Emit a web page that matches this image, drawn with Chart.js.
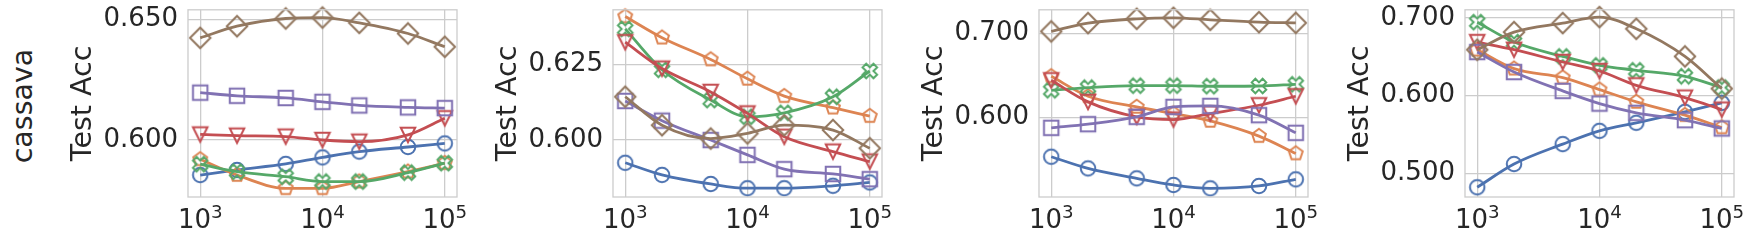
<!DOCTYPE html>
<html><head><meta charset="utf-8">
<script src="https://cdn.jsdelivr.net/npm/chart.js@4.4.1/dist/chart.umd.min.js"></script>
<style>
html,body{margin:0;padding:0;background:#fff;}
#wrap{position:relative;width:1751px;height:241px;overflow:hidden;background:#fff;}
#wrap canvas{position:absolute;top:0;}
#rowlabel{position:absolute;left:23px;top:106px;transform:translate(-50%,-50%) rotate(-90deg);font:28.5px 'DejaVu Sans';color:#262626;white-space:nowrap;line-height:1;}
</style></head><body>
<div id="wrap"><div id="rowlabel"></div></div>
<script>
// ---------------- data ----------------
const X_VALUES = [1000, 2000, 5000, 10000, 20000, 50000, 100000];
const X_TICKS = [1000, 10000, 100000];
const ROW_LABEL = 'cassava';
const Y_LABEL = 'Test Acc';

// panel 1
const P1_BLUE   = [0.5855, 0.5876, 0.5901, 0.5928, 0.5952, 0.5971, 0.5986];
const P1_ORANGE = [0.5920, 0.5855, 0.5800, 0.5800, 0.5828, 0.5869, 0.5904];
const P1_GREEN  = [0.5900, 0.5869, 0.5848, 0.5828, 0.5828, 0.5865, 0.5904];
const P1_RED    = [0.6023, 0.6018, 0.6014, 0.6000, 0.5993, 0.6021, 0.6090];
const P1_PURPLE = [0.6196, 0.6183, 0.6174, 0.6158, 0.6143, 0.6135, 0.6132];
const P1_BROWN  = [0.6423, 0.6471, 0.6503, 0.6507, 0.6485, 0.6441, 0.6386];
const P1_Y_TICKS = [0.600, 0.650];
const P1_Y_RANGE = [0.5764, 0.6539];

// panel 2
const P2_BLUE   = [0.5925, 0.5885, 0.5855, 0.5841, 0.5841, 0.5849, 0.5860];
const P2_ORANGE = [0.6408, 0.6338, 0.6266, 0.6202, 0.6145, 0.6107, 0.6079];
const P2_GREEN  = [0.6367, 0.6232, 0.6132, 0.6077, 0.6090, 0.6143, 0.6228];
const P2_RED    = [0.6323, 0.6236, 0.6159, 0.6088, 0.6011, 0.5962, 0.5929];
const P2_PURPLE = [0.6129, 0.6064, 0.6000, 0.5951, 0.5904, 0.5888, 0.5871];
const P2_BROWN  = [0.6143, 0.6049, 0.6005, 0.6022, 0.6049, 0.6033, 0.5973];
const P2_Y_TICKS = [0.600, 0.625];
const P2_Y_RANGE = [0.5812, 0.6430];

// panel 3
const P3_BLUE   = [0.5534, 0.5395, 0.5277, 0.5198, 0.5158, 0.5186, 0.5265];
const P3_ORANGE = [0.6490, 0.6253, 0.6126, 0.6047, 0.5960, 0.5779, 0.5573];
const P3_GREEN  = [0.6324, 0.6356, 0.6379, 0.6379, 0.6372, 0.6375, 0.6395];
const P3_RED    = [0.6443, 0.6186, 0.6008, 0.5976, 0.6047, 0.6146, 0.6253];
const P3_PURPLE = [0.5877, 0.5921, 0.6008, 0.6126, 0.6138, 0.6028, 0.5818];
const P3_BROWN  = [0.7024, 0.7123, 0.7174, 0.7186, 0.7162, 0.7134, 0.7126];
const P3_Y_TICKS = [0.600, 0.700];
const P3_Y_RANGE = [0.5055, 0.7281];

// panel 4
const P4_BLUE   = [0.4821, 0.5120, 0.5376, 0.5547, 0.5650, 0.5791, 0.5906];
const P4_ORANGE = [0.6590, 0.6346, 0.6231, 0.6077, 0.5919, 0.5748, 0.5590];
const P4_GREEN  = [0.6944, 0.6688, 0.6504, 0.6389, 0.6325, 0.6248, 0.6103];
const P4_RED    = [0.6688, 0.6590, 0.6432, 0.6316, 0.6132, 0.5974, 0.5820];
const P4_PURPLE = [0.6560, 0.6303, 0.6060, 0.5897, 0.5778, 0.5684, 0.5577];
const P4_BROWN  = [0.6590, 0.6816, 0.6932, 0.7009, 0.6859, 0.6504, 0.6090];
const P4_Y_TICKS = [0.500, 0.600, 0.700];
const P4_Y_RANGE = [0.4696, 0.7103];

// ---------------- style ----------------
const COLORS  = ['#4C72B0', '#DD8452', '#55A868', '#C44E52', '#8172B3', '#937860'];
const MARKERS = ['circle', 'pentagon', 'xfilled', 'tridown', 'square', 'diamond'];
const TEXT = '#262626';
const GRID = '#cccccc';
const FONT = 'DejaVu Sans';
const TICK_SIZE = 26, LABEL_SIZE = 28.5;
const MS = 14.5, MEW = 2, LW = 2.8;

const PANELS = [
  {series: [P1_BLUE, P1_ORANGE, P1_GREEN, P1_RED, P1_PURPLE, P1_BROWN], yTicks: P1_Y_TICKS, yRange: P1_Y_RANGE},
  {series: [P2_BLUE, P2_ORANGE, P2_GREEN, P2_RED, P2_PURPLE, P2_BROWN], yTicks: P2_Y_TICKS, yRange: P2_Y_RANGE},
  {series: [P3_BLUE, P3_ORANGE, P3_GREEN, P3_RED, P3_PURPLE, P3_BROWN], yTicks: P3_Y_TICKS, yRange: P3_Y_RANGE},
  {series: [P4_BLUE, P4_ORANGE, P4_GREEN, P4_RED, P4_PURPLE, P4_BROWN], yTicks: P4_Y_TICKS, yRange: P4_Y_RANGE},
];

const PLOT_LEFT = [188, 613, 1039, 1465];
const PLOT_W = 269, AXIS_W = 122, PAD_R = 24, PAD_TOP = 9, XAXIS_H = 44, H = 241;

document.getElementById('rowlabel').textContent = ROW_LABEL;

function markerCanvas(shape, color) {
  const S = 28;
  const c = document.createElement('canvas');
  c.width = S; c.height = S;
  const g = c.getContext('2d');
  g.translate(S / 2, S / 2);
  g.strokeStyle = color; g.lineWidth = MEW; g.lineJoin = 'miter';
  const h = MS / 2;
  g.beginPath();
  if (shape === 'circle') {
    g.arc(0, 0, h, 0, Math.PI * 2);
  } else if (shape === 'square') {
    g.rect(-h, -h, MS, MS);
  } else if (shape === 'diamond') {
    const d = h * Math.SQRT2;
    g.moveTo(0, -d); g.lineTo(d, 0); g.lineTo(0, d); g.lineTo(-d, 0); g.closePath();
  } else if (shape === 'tridown') {
    g.moveTo(-h, -h); g.lineTo(h, -h); g.lineTo(0, h); g.closePath();
  } else if (shape === 'pentagon') {
    for (let k = 0; k < 5; k++) {
      const a = -Math.PI / 2 + k * 2 * Math.PI / 5;
      const px = h * Math.cos(a), py = h * Math.sin(a);
      if (k === 0) g.moveTo(px, py); else g.lineTo(px, py);
    }
    g.closePath();
  } else if (shape === 'xfilled') {
    const pts = [[-1,-2],[0,-1],[1,-2],[2,-1],[1,0],[2,1],[1,2],[0,1],[-1,2],[-2,1],[-1,0],[-2,-1]];
    pts.forEach((p, k) => {
      const px = p[0] * h / 2, py = p[1] * h / 2;
      if (k === 0) g.moveTo(px, py); else g.lineTo(px, py);
    });
    g.closePath();
  }
  g.stroke();
  return c;
}

const frame = {
  id: 'frame',
  afterDatasetsDraw(chart) {
    const a = chart.chartArea, ctx = chart.ctx;
    ctx.save();
    ctx.strokeStyle = GRID; ctx.lineWidth = 1.3;
    ctx.strokeRect(a.left, a.top, a.right - a.left, a.bottom - a.top);
    ctx.restore();
  }
};

const xTickLabels = {
  id: 'xTickLabels',
  afterDraw(chart) {
    const s = chart.scales.x, ctx = chart.ctx;
    ctx.save();
    ctx.fillStyle = TEXT; ctx.textBaseline = 'alphabetic'; ctx.textAlign = 'left';
    const fb = TICK_SIZE + 'px "' + FONT + '"';
    const fe = (TICK_SIZE * 0.7) + 'px "' + FONT + '"';
    for (const t of s.ticks) {
      const px = s.getPixelForValue(t.value);
      const e = String(Math.round(Math.log10(t.value)));
      ctx.font = fb;
      const wb = ctx.measureText('10').width;
      ctx.font = fe;
      const we = ctx.measureText(e).width;
      const x0 = px - (wb + we) / 2;
      const yb = s.top + 30.5;
      ctx.font = fb;
      ctx.fillText('10', x0, yb);
      ctx.font = fe;
      ctx.fillText(e, x0 + wb, yb - 9.3);
    }
    ctx.restore();
  }
};

const wrap = document.getElementById('wrap');
PANELS.forEach((p, pi) => {
  const cv = document.createElement('canvas');
  const W = AXIS_W + PLOT_W + PAD_R;
  cv.width = W; cv.height = H;
  cv.style.left = (PLOT_LEFT[pi] - AXIS_W) + 'px';
  cv.style.width = W + 'px'; cv.style.height = H + 'px';
  wrap.appendChild(cv);

  const datasets = p.series.map((arr, si) => ({
    data: X_VALUES.map((x, i) => ({x: x, y: arr[i]})),
    borderColor: COLORS[si],
    borderWidth: LW,
    backgroundColor: 'transparent',
    pointStyle: markerCanvas(MARKERS[si], COLORS[si]),
    pointRadius: 7,
    pointHoverRadius: 7,
    cubicInterpolationMode: 'monotone',
    fill: false,
    clip: false,
    order: 6 - si
  }));

  new Chart(cv, {
    type: 'line',
    data: {datasets: datasets},
    plugins: [frame, xTickLabels],
    options: {
      responsive: false,
      animation: false,
      devicePixelRatio: 1,
      layout: {padding: {top: PAD_TOP, right: PAD_R, left: 0, bottom: 0}},
      plugins: {legend: {display: false}, tooltip: {enabled: false}},
      events: [],
      scales: {
        x: {
          type: 'logarithmic',
          min: Math.pow(10, 2.9), max: Math.pow(10, 5.1),
          afterBuildTicks: s => { s.ticks = X_TICKS.map(v => ({value: v})); },
          ticks: {display: false},
          grid: {color: GRID, lineWidth: 1.3, drawTicks: false},
          border: {display: false},
          afterFit: s => { s.height = XAXIS_H; s.paddingLeft = 0; s.paddingRight = 0; }
        },
        y: {
          type: 'linear',
          min: p.yRange[0], max: p.yRange[1],
          afterBuildTicks: s => { s.ticks = p.yTicks.map(v => ({value: v})); },
          ticks: {
            callback: v => Number(v).toFixed(3),
            font: {family: FONT, size: TICK_SIZE},
            color: TEXT,
            padding: 10,
            autoSkip: false
          },
          title: {display: true, text: Y_LABEL, font: {family: FONT, size: LABEL_SIZE}, color: TEXT, padding: 0},
          grid: {color: GRID, lineWidth: 1.3, drawTicks: false},
          border: {display: false},
          afterFit: s => { s.width = AXIS_W; s.paddingTop = 0; s.paddingBottom = 0; }
        }
      }
    }
  });
});
</script>
</body></html>
